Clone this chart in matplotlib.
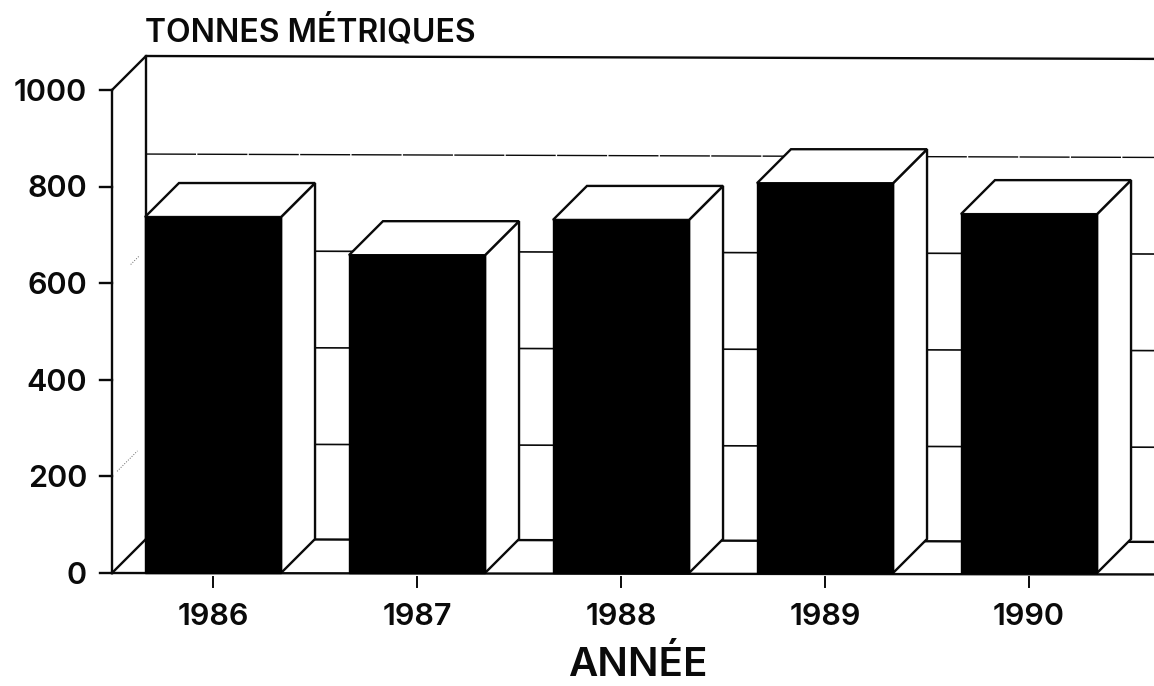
import matplotlib
matplotlib.use('Agg')
import matplotlib.pyplot as plt
from matplotlib.patches import Polygon

years = ['1986', '1987', '1988', '1989', '1990']
tonnes = [737, 658, 731, 807, 743]
y_ticks = [0, 200, 400, 600, 800, 1000]
grid_levels = [200, 400, 600, 800]

plt.rcParams['font.family'] = ['Inter', 'Liberation Sans', 'DejaVu Sans']

fig = plt.figure(figsize=(11.54, 6.86), dpi=100)
ax = fig.add_axes([0, 0, 1, 1])

# one category = 204 px, 1000 tonnes = 483 px
ax.set_xlim(-213 / 204, 941 / 204)
ax.set_ylim(-113 / 0.483, 573 / 0.483)
ax.axis('off')

width = 0.667
dx = 34 / 204      # depth of the box
dy = 34 / 0.483
wall_x = -101 / 204
right_end = 941 / 204
lw = 1.7
ink = '#0a0a0a'

# back wall and left wall
ax.plot([wall_x, wall_x + dx, right_end], [0, dy, dy - 6], color=ink, lw=lw)
ax.plot([wall_x, wall_x], [0, 1000], color=ink, lw=lw)
ax.plot([wall_x + dx, wall_x + dx], [dy, 1000 + dy], color=ink, lw=lw)
ax.plot([wall_x, wall_x + dx, right_end], [1000, 1000 + dy, 1000 + dy - 6], color=ink, lw=lw)

# grid on the back wall, sloping a little with the scan
for g in grid_levels:
    if g == 800:
        ax.plot([wall_x + dx, right_end], [g + dy - 3, g + dy - 10], color=ink, lw=1.0,
                dashes=(36, 1))
    else:
        ax.plot([wall_x + dx, right_end], [g + dy - 3, g + dy - 10], color=ink, lw=1.2)

# what is left of the grid on the left wall
ax.plot([wall_x + 0.15 * dx, wall_x + 0.75 * dx], [200 + 0.15 * dy, 200 + 0.75 * dy],
        color='#666666', lw=0.7, ls=':')
ax.plot([wall_x + 0.55 * dx, wall_x + 0.8 * dx], [600 + 0.55 * dy, 600 + 0.8 * dy],
        color='#666666', lw=0.7, ls=':')

# floor
ax.plot([wall_x, right_end], [0, -3], color=ink, lw=lw)

# y ticks and labels
for t in y_ticks:
    ax.plot([wall_x - 12 / 204, wall_x], [t, t], color=ink, lw=lw)
    ax.text(-126 / 204, t - 6, str(t), ha='right', va='center', fontsize=22,
            fontweight=600, color=ink)

# bars in 3d
for i, (yr, v) in enumerate(zip(years, tonnes)):
    x0 = i - width / 2
    x1 = i + width / 2
    ax.add_patch(Polygon([(x1, 0), (x1 + dx, dy), (x1 + dx, v + dy), (x1, v)],
                         fc='white', ec=ink, lw=lw, zorder=3))
    ax.add_patch(Polygon([(x0, v), (x0 + dx, v + dy), (x1 + dx, v + dy), (x1, v)],
                         fc='white', ec=ink, lw=lw, zorder=3))
    ax.bar(i, v, width=width, color='black', edgecolor='black', zorder=4)
    ax.plot([i, i], [-8, -28], color=ink, lw=1.4)
    ax.text(i, -92, yr, ha='center', va='center', fontsize=22, fontweight=600, color=ink)

ax.text(wall_x + dx - 0.005, 1120, 'TONNES MÉTRIQUES', ha='left', va='center', fontsize=23,
        fontweight=600, color=ink)
ax.text(2.083, -190, 'ANNÉE', ha='center', va='center', fontsize=29, fontweight=600,
        color=ink)

fig.savefig('out.png', dpi=100)
